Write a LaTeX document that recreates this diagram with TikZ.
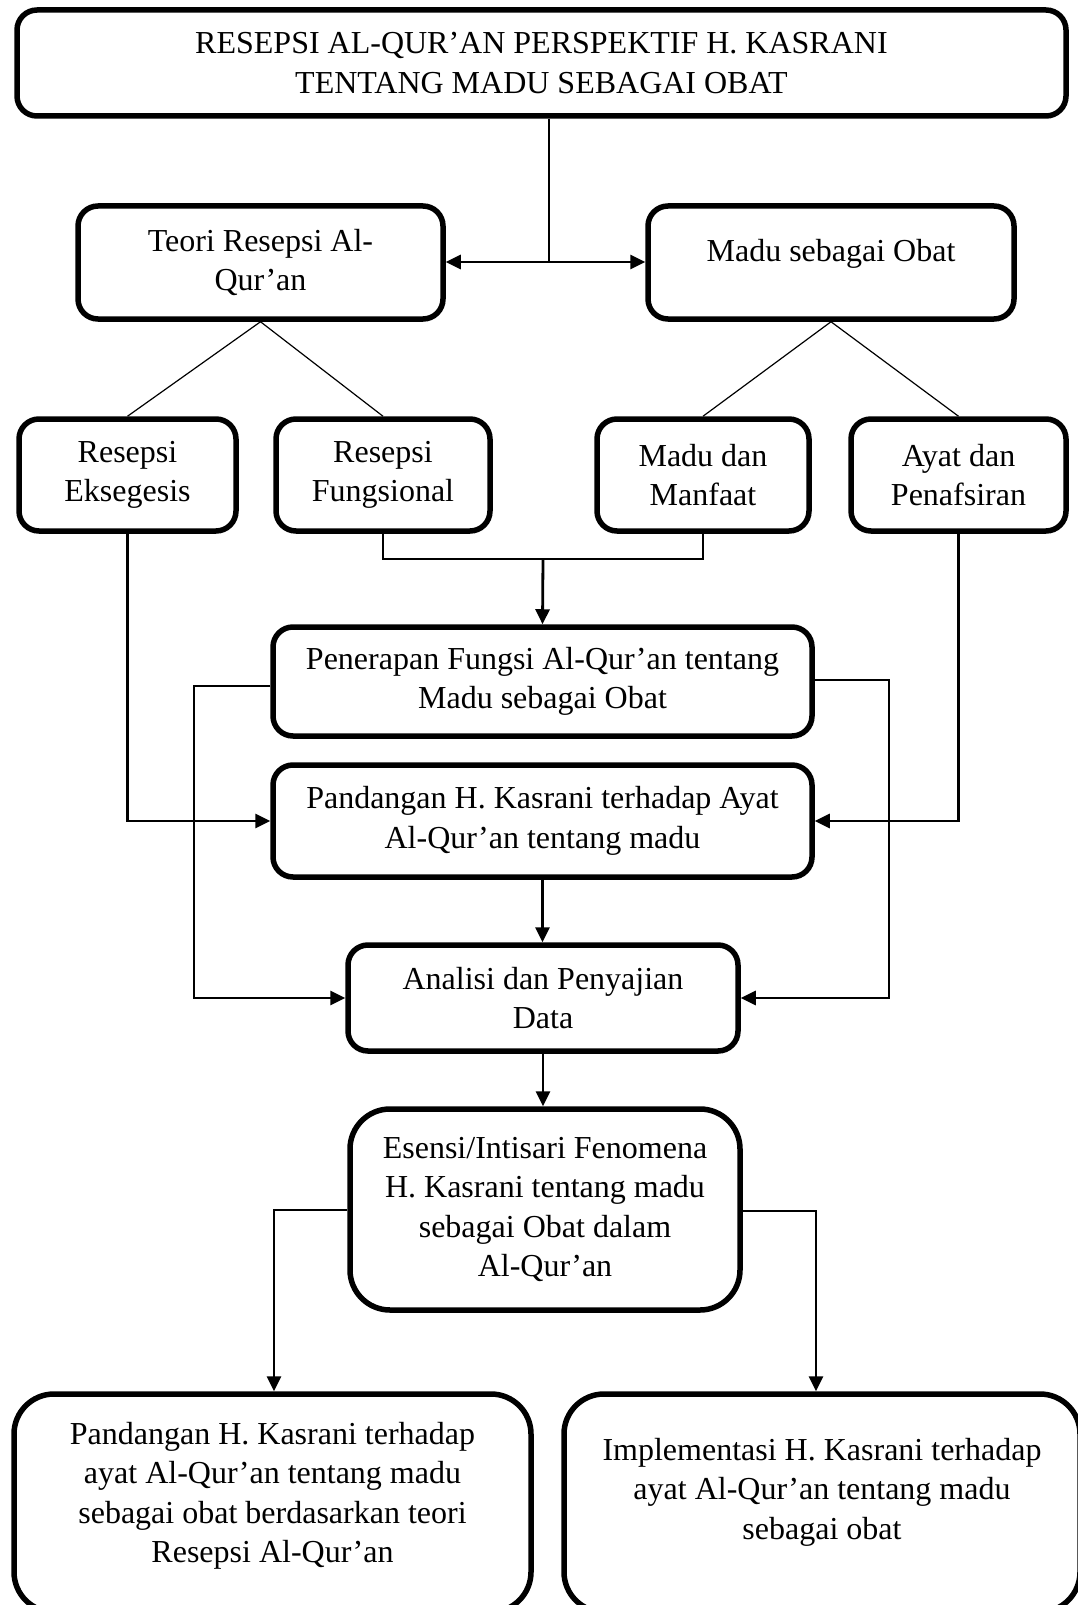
\documentclass[tikz,border=0pt]{standalone}
\usepackage{fontspec}
\setmainfont{Liberation Serif}
\usetikzlibrary{arrows.meta,calc}
\tikzset{
  box/.style={draw, line width=5.5pt, rounded corners=20pt, inner sep=0pt, align=center,
    font=\fontsize{32}{39.5}\selectfont},
  bigbox/.style={box, rounded corners=40pt},
  conn/.style={line width=2.8pt},
  thinln/.style={line width=1.2pt},
  arr/.style={conn, -{Triangle[length=15pt,width=14pt]}},
  lbl/.style={font=\fontsize{32}{39.5}\selectfont, align=center},
}
\begin{document}
\begin{tikzpicture}[x=1pt,y=-1pt]
\useasboundingbox (0,0) rectangle (1078,1605);
\clip (0,0) rectangle (1078,1605);
% boxes
\node[box, minimum width=1049pt, minimum height=106pt] (top) at (541.5,63)
  {RESEPSI AL-QUR’AN PERSPEKTIF H. KASRANI\\TENTANG MADU SEBAGAI OBAT};
\node[box, minimum width=365pt, minimum height=113pt] (teori) at (260.5,262.5)
  {Teori Resepsi Al-\\Qur’an};
\node[box, minimum width=366pt, minimum height=113pt,
  label={[lbl, name=madutxt, yshift=9pt]center:Madu sebagai Obat}] (madu) at (831,262.5) {};
\node[box, minimum width=217pt, minimum height=112pt] (eks) at (127.5,475)
  {Resepsi\\Eksegesis};
\node[box, minimum width=214pt, minimum height=112pt] (fung) at (383,475)
  {Resepsi\\Fungsional};
\node[box, minimum width=212pt, minimum height=112pt] (mm) at (703,475)
  {Madu dan\\Manfaat};
\node[box, minimum width=215pt, minimum height=112pt] (ayat) at (958.5,475)
  {Ayat dan\\Penafsiran};
\node[box, minimum width=539pt, minimum height=109pt] (pen) at (542.5,681.5)
  {Penerapan Fungsi Al-Qur’an tentang\\Madu sebagai Obat};
\node[box, minimum width=539pt, minimum height=112pt] (pand) at (542.5,821)
  {Pandangan H. Kasrani terhadap Ayat\\Al-Qur’an tentang madu};
\node[box, minimum width=390pt, minimum height=106pt] (ana) at (543,998)
  {Analisi dan Penyajian\\Data};
\node[bigbox, minimum width=390pt, minimum height=201pt] (ese) at (545,1209.5)
  {Esensi/Intisari Fenomena\\H. Kasrani tentang madu\\sebagai Obat dalam\\Al-Qur’an};
\node[bigbox, minimum width=517pt, minimum height=218pt,
  label={[lbl, name=bltxt, yshift=7pt]center:Pandangan H. Kasrani terhadap\\ayat Al-Qur’an tentang madu\\sebagai obat berdasarkan teori\\Resepsi Al-Qur’an}] (bl) at (272.5,1503) {};
\node[bigbox, minimum width=516pt, minimum height=218pt,
  label={[lbl, name=brtxt, yshift=11pt]center:Implementasi H. Kasrani terhadap\\ayat Al-Qur’an tentang madu\\sebagai obat}] (br) at (822,1503) {};
% connectors
\coordinate (j1) at (549,262);
\draw[conn] (top.south -| j1) -- (j1);
\draw[arr] (j1) -- (teori.east |- j1);
\draw[arr] (j1) -- (madu.west |- j1);
\draw[thinln] (teori.south) -- (eks.north);
\draw[thinln] (teori.south) -- (fung.north);
\draw[thinln] (madu.south) -- (mm.north);
\draw[thinln] (madu.south) -- (ayat.north);
\draw[arr] (eks.south) |- (pand.west);
\draw[arr] (ayat.south) |- (pand.east);
\coordinate (j2) at (543,559);
\draw[thinln] (fung.south) -- (fung.south |- j2) -- (mm.south |- j2) -- (mm.south);
\draw[arr] (j2) -- (pen.north);
\coordinate (l1) at (194,686);
\draw[arr] (pen.west |- l1) -- (l1) |- (ana.west);
\coordinate (r1) at (889,680);
\draw[arr] (pen.east |- r1) -- (r1) |- (ana.east);
\draw[arr] (pand.south) -- (pand.south |- ana.north);
\draw[arr] (ana.south) -- (ana.south |- ese.north);
\coordinate (el) at (274,1210);
\draw[arr] (ese.west |- el) -- (el) -- (el |- bl.north);
\coordinate (er) at (816,1211);
\draw[arr] (ese.east |- er) -- (er) -- (er |- br.north);
\end{tikzpicture}
\end{document}
